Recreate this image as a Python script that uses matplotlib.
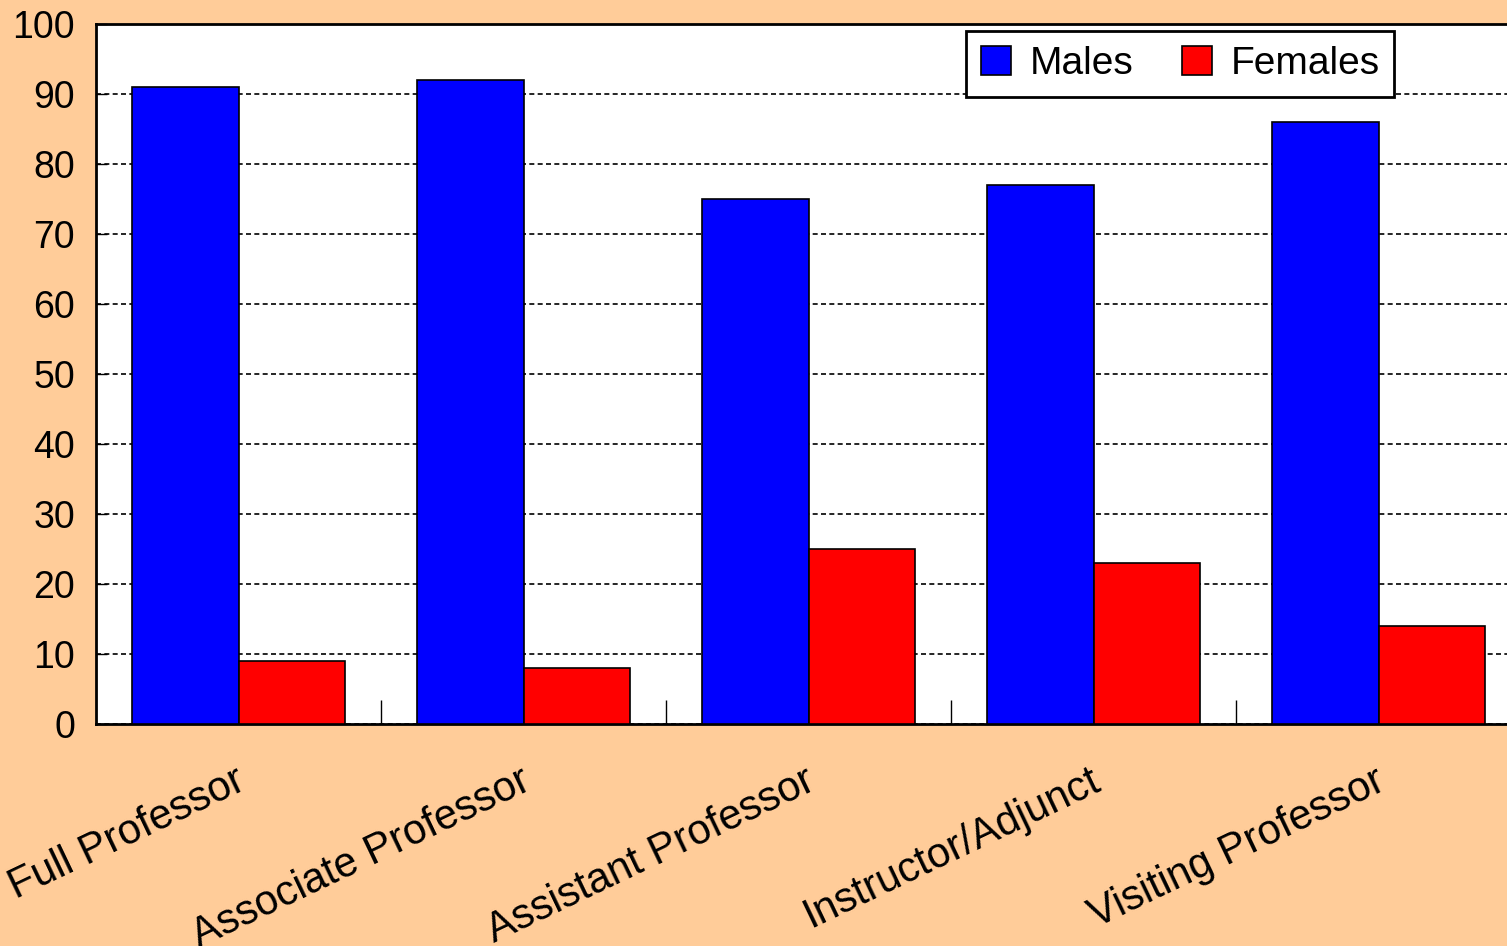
import numpy as np
import matplotlib.pyplot as plt
from matplotlib import transforms

plt.rcParams['font.family'] = ['Liberation Sans', 'DejaVu Sans']

categories = ['Full Professor', 'Associate Professor', 'Assistant Professor',
              'Instructor/Adjunct', 'Visiting Professor']
males = [91, 92, 75, 77, 86]
females = [9, 8, 25, 23, 14]
yticks = np.arange(0, 101, 10)

bg = '#FFCC99'
fig = plt.figure(figsize=(15.07, 9.46), dpi=100, facecolor=bg)
ax = fig.add_axes([96 / 1507, 222 / 946, 1425 / 1507, 700 / 946])
ax.set_facecolor('white')

x = np.arange(len(categories))
w = 0.375
ax.bar(x - w / 2, males, w, color='#0000FF', edgecolor='black', linewidth=1.2,
       label='Males', zorder=3)
ax.bar(x + w / 2, females, w, color='#FF0000', edgecolor='black', linewidth=1.2,
       label='Females', zorder=3)

ax.set_xlim(-0.5, len(categories) - 0.5)
ax.set_ylim(0, 100)
ax.set_yticks(yticks)
ax.tick_params(axis='y', direction='in', length=8, width=1, labelsize=27, pad=15)
ax.yaxis.grid(True, color='black', linestyle=(0, (3, 2)), linewidth=1.2, zorder=0)

# category separators as small ticks on the bottom axis
ax.set_xticks(x[:-1] + 0.5, minor=True)
ax.set_xticks([])
ax.tick_params(axis='x', which='minor', direction='in', length=17, width=1)

for s in ['left', 'bottom', 'top', 'right']:
    ax.spines[s].set_linewidth(2)

offs = transforms.ScaledTranslation(-4 / 100, -37 / 100, fig.dpi_scale_trans)
for xi, lab in zip(x, categories):
    ax.text(xi, 0, lab, transform=ax.transData + offs, rotation=25.5,
            rotation_mode='anchor', ha='right', va='top', fontsize=30)

leg = ax.legend(loc='upper left', bbox_to_anchor=(966 / 1507, 1 - 31 / 946),
                bbox_transform=fig.transFigure, ncol=2, fontsize=28,
                frameon=True, fancybox=False, framealpha=1, edgecolor='black',
                handlelength=0.78, handleheight=0.78, handletextpad=0.47,
                columnspacing=1.25, borderpad=0.38, borderaxespad=0)
leg.get_frame().set_linewidth(2)
leg.set_zorder(5)

fig.savefig('out.png', dpi=100, facecolor=bg)
